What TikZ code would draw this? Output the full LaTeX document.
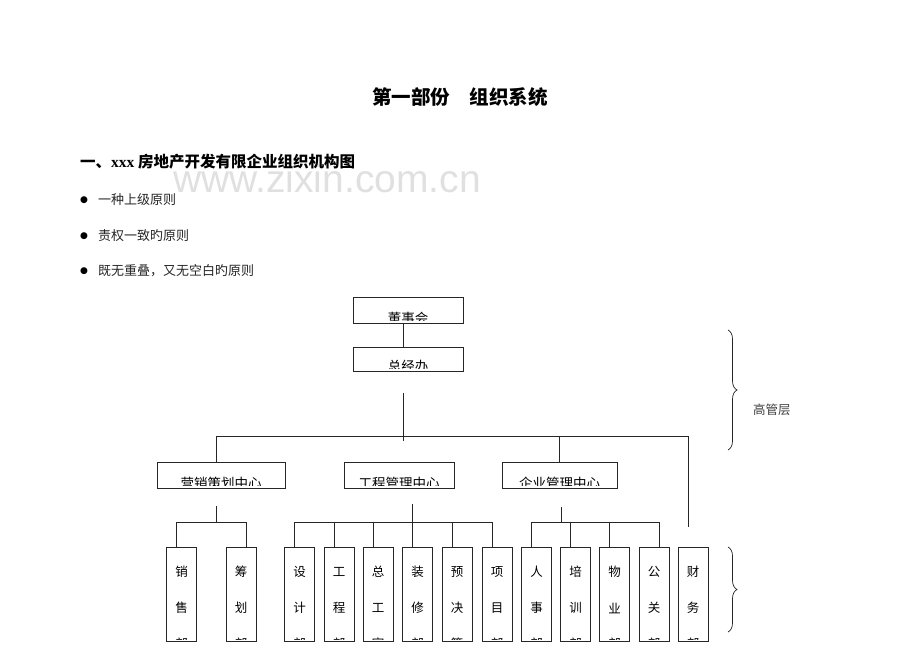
\documentclass[tikz,border=0pt]{standalone}
\usepackage{fontspec}
\setmainfont{Liberation Serif}
\newfontfamily\cjk{Noto Sans CJK SC}
\newfontfamily\wmfont{Liberation Sans}
\newfontfamily\symfont{DejaVu Sans}
\usetikzlibrary{positioning,decorations.pathreplacing}

\tikzset{
  conn/.style={draw=black!85, line width=0.8pt},
  topbox/.style={draw=black!85, line width=0.8pt, inner sep=0pt,
    minimum width=110pt, minimum height=25pt},
  midbox/.style={draw=black!85, line width=0.8pt, inner sep=0pt,
    minimum height=26pt},
  deptbox/.style={draw=black!85, line width=0.8pt, inner sep=0pt,
    minimum width=30pt, minimum height=94pt},
  % text whose lower part is hidden by the box
  cut/.style={path picture={
    \clip (path picture bounding box.north west)
      rectangle ([yshift=2.5pt]path picture bounding box.south east);
    \node[inner sep=0pt, font=\cjk\fontsize{13.5}{13.5}\selectfont]
      at ([yshift=5pt]path picture bounding box.south) {#1};}},
  col/.style n args={3}{path picture={
    \clip (path picture bounding box.north west)
      rectangle ([yshift=2pt]path picture bounding box.south east);
    \node[inner sep=0pt, font=\cjk\fontsize{12.5}{12.5}\selectfont]
      at ([yshift=-25pt]path picture bounding box.north) {#1};
    \node[inner sep=0pt, font=\cjk\fontsize{12.5}{12.5}\selectfont]
      at ([yshift=-61pt]path picture bounding box.north) {#2};
    \node[inner sep=0pt, font=\cjk\fontsize{12.5}{12.5}\selectfont]
      at ([yshift=-97pt]path picture bounding box.north) {#3};}},
  bul/.style={inner sep=0pt, font=\symfont\fontsize{9}{9}\selectfont},
  item/.style={inner sep=0pt, anchor=west, text=black!85,
    font=\cjk\fontsize{13}{13}\selectfont},
  layer/.style={draw=black!85, line width=0.7pt,
    decorate, decoration={brace, amplitude=9pt}}
}

\begin{document}
\begin{tikzpicture}[x=1pt, y=-1pt]
  \useasboundingbox (0,0) rectangle (920,651);

  % watermark
  \node[inner sep=0pt, text=black!12, font=\wmfont\fontsize{39}{39}\selectfont]
    (wm) at (327,179) {www.zixin.com.cn};

  % heading
  \node[inner sep=0pt, font=\cjk\bfseries\fontsize{19.5}{19.5}\selectfont]
    (title) at (460,97) {第一部份\quad 组织系统};
  \node[inner sep=0pt, anchor=west, font=\cjk\bfseries\fontsize{15.5}{15.5}\selectfont]
    (sec) at (80,162) {一、{\rmfamily\bfseries xxx} 房地产开发有限企业组织机构图};

  \node[bul] (b1) at (84,200) {●};
  \node[item] (i1) at (98,200) {一种上级原则};
  \node[bul] (b2) at (84,236) {●};
  \node[item] (i2) at (98,236) {责权一致旳原则};
  \node[bul] (b3) at (84,271) {●};
  \node[item] (i3) at (98,271) {既无重叠，又无空白旳原则};

  % top
  \node[topbox, minimum height=26pt, cut=董事会] (board) at (408,310) {};
  \node[topbox, minimum height=24pt, cut=总经办] (exec) at (408,359) {};
  \draw[conn] ([xshift=-5pt]board.south) -- ([xshift=-5pt]exec.north);
  \coordinate (t1) at (403,393);
  \coordinate (t2) at (403,441);
  \draw[conn] (t1) -- (t2);

  % centres
  \node[midbox, minimum width=128pt, cut=营销策划中心] (mkt) at (221,475) {};
  \node[midbox, minimum width=110pt, cut=工程管理中心] (eng) at (399,475) {};
  \node[midbox, minimum width=115pt, cut=企业管理中心] (ent) at (559.5,475) {};

  % departments
  \node[deptbox, col={销}{售}{部}] (sale) at (181.5,594) {};
  \node[deptbox, col={筹}{划}{部}] (plan) at (241,594) {};
  \foreach \n/\x/\a/\b/\c in {des/299.5/设/计/部, engd/339/工/程/部,
      chief/378/总/工/室, deco/417.5/装/修/部, budget/457/预/决/算,
      proj/497/项/目/部, hr/536.5/人/事/部, train/575.5/培/训/部,
      prop/614.5/物/业/部, pr/654/公/关/部, fin/693/财/务/部}
    \node[deptbox, col={\a}{\b}{\c}] (\n) at (\x,594) {};

  % first level lines
  \coordinate (finend) at (688,527);
  \draw[conn] ([xshift=-5pt]mkt.north) -- ++(0,-25) -| (finend);
  \draw[conn] (ent.north) -- ++(0,-25);

  % marketing
  \coordinate (m1) at (216,506);
  \coordinate (m2) at (216,522);
  \draw[conn] (m1) -- (m2);
  \draw[conn] ([xshift=-5pt]sale.north) -- ++(0,-24) -| ([xshift=5pt]plan.north);

  % engineering
  \draw[conn] ([xshift=-5pt]des.north) -- ++(0,-24) -| ([xshift=-5pt]proj.north);
  \foreach \n in {engd,chief,budget}
    \draw[conn] ([xshift=-5pt]\n.north) -- ++(0,-24);
  \draw[conn] ([xshift=-5pt]deco.north) -- ++(0,-43);

  % enterprise
  \coordinate (e1) at (561,507);
  \coordinate (e2) at (561,522);
  \draw[conn] (e1) -- (e2);
  \draw[conn] ([xshift=-5pt]hr.north) -- ++(0,-24) -| ([xshift=5pt]pr.north);
  \foreach \n in {train,prop}
    \draw[conn] ([xshift=-5pt]\n.north) -- ++(0,-24);

  % layers
  \coordinate (br1) at (728,330);
  \coordinate (br2) at (728,450);
  \coordinate (br3) at (728,547);
  \coordinate (br4) at (728,632);
  \draw[layer] (br1) -- (br2);
  \draw[layer] (br3) -- (br4);
  \node[inner sep=0pt, anchor=west, text=black!75,
    font=\cjk\fontsize{12.5}{12.5}\selectfont] (top) at (753,410) {高管层};
\end{tikzpicture}
\end{document}
